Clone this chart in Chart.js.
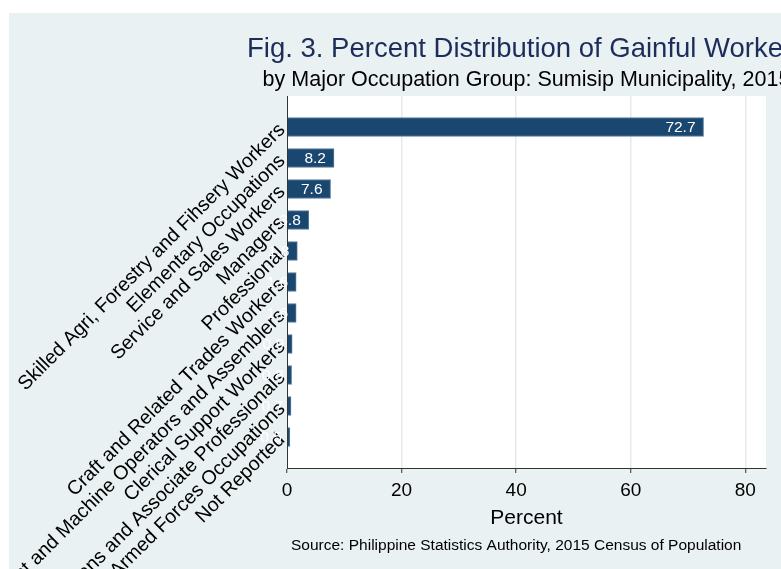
<!DOCTYPE html>
<html>
<head>
<meta charset="utf-8">
<script src="https://cdn.jsdelivr.net/npm/chart.js@4"></script>
<style>
  html, body { margin: 0; padding: 0; background: #fff; overflow: hidden; }
  #wrap { position: absolute; left: 9px; top: 13px; width: 772px; height: 556px; }
</style>
</head>
<body>
<div id="wrap"><canvas id="chart" width="772" height="556"></canvas></div>
<script>
const CATEGORIES = [
    "Skilled Agri, Forestry and Fihsery Workers",
    "Elementary Occupations",
    "Service and Sales Workers",
    "Managers",
    "Professional",
    "Craft and Related Trades Workers",
    "Plant and Machine Operators and Assemblers",
    "Clerical Support Workers",
    "Technicians and Associate Professionals",
    "Armed Forces Occupations",
    "Not Reported",
];
const PERCENTS = [72.7, 8.2, 7.6, 3.8, 1.8, 1.6, 1.6, 0.9, 0.8, 0.7, 0.5];
const X_TICKS = [0, 20, 40, 60, 80];

const TITLE = "Fig. 3. Percent Distribution of Gainful Workers";
const SUBTITLE = "by Major Occupation Group: Sumisip Municipality, 2015";
const NOTE = "Source: Philippine Statistics Authority, 2015 Census of Population";

const FONT = "'Liberation Sans', Arial, Helvetica, sans-serif";
const PANEL = "#eaf1f3";
const NAVY = "#1a476f";
const GRID = "#e3ebef";

// panel + white plot region, then titles and note
const backdrop = {
    id: "backdrop",
    beforeDraw(chart) {
        const { ctx, chartArea: a } = chart;
        ctx.save();
        ctx.fillStyle = PANEL;
        ctx.fillRect(0, 0, chart.width, chart.height);
        ctx.fillStyle = "#fff";
        ctx.fillRect(a.left, a.top, a.right - a.left, a.bottom - a.top);
        ctx.restore();
    },
    afterDraw(chart) {
        const { ctx, chartArea: a } = chart;
        const cx = (a.left + a.right) / 2;
        ctx.save();
        ctx.textBaseline = "alphabetic";
        ctx.textAlign = "center";
        ctx.fillStyle = "#1c2d5a";
        ctx.font = `27.5px ${FONT}`;
        ctx.fillText(TITLE, cx, 44);
        ctx.fillStyle = "#000";
        ctx.font = `21.5px ${FONT}`;
        ctx.fillText(SUBTITLE, cx, 73);
        ctx.textAlign = "left";
        ctx.font = `15.5px ${FONT}`;
        ctx.fillText(NOTE, a.left + 4, 537);
        ctx.restore();
    },
};

// value labels, white, inside the bar end
const barLabels = {
    id: "barLabels",
    afterDatasetsDraw(chart) {
        const { ctx } = chart;
        const meta = chart.getDatasetMeta(0);
        ctx.save();
        ctx.fillStyle = "#fff";
        ctx.font = `15.5px ${FONT}`;
        ctx.textAlign = "right";
        ctx.textBaseline = "middle";
        meta.data.forEach((bar, i) => {
            ctx.fillText(PERCENTS[i].toFixed(1), bar.x - 8, bar.y + 1);
        });
        ctx.restore();
    },
};

new Chart(document.getElementById("chart"), {
    type: "bar",
    data: {
        datasets: [{
            data: PERCENTS.map((v, i) => ({ x: v, y: i })),
            backgroundColor: NAVY,
            borderColor: "#5b7b98",
            borderWidth: 1,
            borderSkipped: "left",
            barThickness: 19,
        }],
    },
    options: {
        indexAxis: "y",
        responsive: false,
        animation: false,
        devicePixelRatio: 1,
        layout: { padding: { top: 83, right: 15, bottom: 0, left: 0 } },
        plugins: {
            legend: { display: false },
            tooltip: { enabled: false },
        },
        scales: {
            x: {
                type: "linear",
                min: 0,
                max: 83.6,
                afterBuildTicks: (s) => { s.ticks = X_TICKS.map((v) => ({ value: v })); },
                afterFit: (s) => { s.height = 101; },
                grid: {
                    color: (c) => (c.tick && c.tick.value === 0 ? "rgba(0,0,0,0)" : GRID),
                    lineWidth: 1.5,
                    tickColor: "#333",
                    tickWidth: 1,
                    tickLength: 5,
                },
                border: { display: true, color: "#333", width: 1 },
                ticks: {
                    color: "#000",
                    padding: 6,
                    font: { family: FONT, size: 19 },
                },
                title: {
                    display: true,
                    text: "Percent",
                    color: "#000",
                    font: { family: FONT, size: 21 },
                    padding: { top: 0, bottom: 38 },
                },
            },
            y: {
                type: "linear",
                reverse: true,
                offset: false,   // bar charts turn this on for the index axis
                min: -1,
                max: 11,
                afterBuildTicks: (s) => { s.ticks = CATEGORIES.map((_, i) => ({ value: i })); },
                afterFit: (s) => { s.width = 278; },
                grid: { display: false, drawTicks: false, offset: false },
                border: { display: true, color: "#333", width: 1 },
                ticks: {
                    autoSkip: false,
                    minRotation: 45,
                    maxRotation: 45,
                    padding: 5,
                    color: "#000",
                    font: { family: FONT, size: 19.7 },
                    callback: (v) => CATEGORIES[v] || "",
                },
            },
        },
    },
    plugins: [backdrop, barLabels],
});
</script>
</body>
</html>
